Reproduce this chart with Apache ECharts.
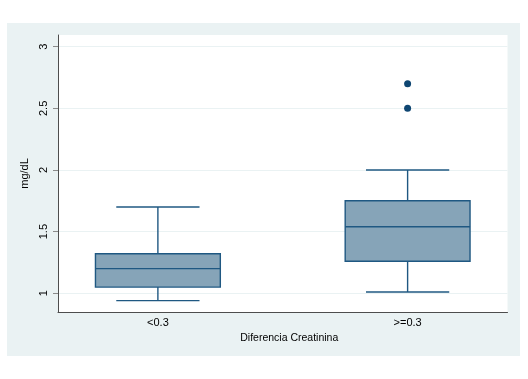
<!DOCTYPE html>
<html>
<head>
<meta charset="utf-8">
<script src="https://cdn.jsdelivr.net/npm/echarts@6/dist/echarts.min.js"></script>
<style>
  html, body { margin: 0; padding: 0; background: #ffffff; }
  #wrap { position: relative; width: 528px; height: 379px; }
  #bg { position: absolute; left: 7px; top: 23px; width: 513px; height: 333px; background: #eaf2f3; }
  #chart { position: absolute; left: 0; top: 0; width: 528px; height: 379px; }
</style>
</head>
<body>
<div id="wrap"><div id="bg"></div><div id="chart"></div></div>
<script>
// Data
const categories = ['<0.3', '>=0.3'];
const positions = [1, 2];
const mins    = [0.94, 1.01];
const q1s     = [1.05, 1.26];
const medians = [1.20, 1.54];
const q3s     = [1.32, 1.75];
const maxs    = [1.70, 2.00];
const outlierGroup = [2, 2];
const outlierValues = [2.50, 2.70];
const yTicks = [1, 1.5, 2, 2.5, 3];

const boxData = positions.map((p, i) => [p, mins[i], q1s[i], medians[i], q3s[i], maxs[i]]);
const outlierData = outlierGroup.map((g, i) => [g, outlierValues[i]]);

const lineColor = '#1f5882';
const fillColor = '#86a4b8';
const boxHalf = 0.25;
const capHalf = 1 / 6;

const chart = echarts.init(document.getElementById('chart'), null, { renderer: 'canvas' });
chart.setOption({
  animation: false,
  backgroundColor: 'transparent',
  textStyle: { fontFamily: 'Liberation Sans, Arial, sans-serif' },
  grid: {
    left: 58, top: 35, right: 20.5, bottom: 67,
    show: true, backgroundColor: '#ffffff', borderWidth: 0
  },
  xAxis: {
    type: 'value',
    min: 0.6, max: 2.4,
    name: 'Diferencia Creatinina',
    nameLocation: 'middle',
    nameGap: 19,
    nameTextStyle: { fontSize: 10.5, color: '#000', padding: [0, 0, 0, 13] },
    axisLine: { show: true, onZero: false, lineStyle: { color: '#4d4d4d', width: 1 } },
    axisTick: { show: false },
    splitLine: { show: false },
    axisLabel: {
      customValues: positions,
      formatter: v => categories[positions.indexOf(v)] || '',
      fontSize: 11, color: '#000', margin: 5
    }
  },
  yAxis: {
    type: 'value',
    min: 0.848, max: 3.095,
    name: 'mg/dL',
    nameLocation: 'middle',
    nameGap: 28,
    nameTextStyle: { fontSize: 11, color: '#000' },
    axisLine: { show: true, lineStyle: { color: '#4d4d4d', width: 1 } },
    axisTick: { show: true, customValues: yTicks, length: 5, lineStyle: { color: '#8a8a8a' } },
    axisLabel: { customValues: yTicks, rotate: 90, fontSize: 11, color: '#000', margin: 9 },
    splitLine: { show: true, lineStyle: { color: '#eaf2f3', width: 1 } }
  },
  series: [
    {
      type: 'custom',
      data: boxData,
      z: 3,
      renderItem: function (params, api) {
        const x = api.value(0);
        const vMin = api.value(1), vQ1 = api.value(2), vMed = api.value(3), vQ3 = api.value(4), vMax = api.value(5);
        const tl = api.coord([x - boxHalf, vQ3]);
        const br = api.coord([x + boxHalf, vQ1]);
        const medL = api.coord([x - boxHalf, vMed]);
        const medR = api.coord([x + boxHalf, vMed]);
        const top = api.coord([x, vMax]);
        const bot = api.coord([x, vMin]);
        const capTL = api.coord([x - capHalf, vMax]);
        const capTR = api.coord([x + capHalf, vMax]);
        const capBL = api.coord([x - capHalf, vMin]);
        const capBR = api.coord([x + capHalf, vMin]);
        const ls = { stroke: lineColor, lineWidth: 1.4 };
        return {
          type: 'group',
          children: [
            { type: 'line', shape: { x1: top[0], y1: top[1], x2: top[0], y2: tl[1] }, style: ls },
            { type: 'line', shape: { x1: bot[0], y1: br[1], x2: bot[0], y2: bot[1] }, style: ls },
            { type: 'line', shape: { x1: capTL[0], y1: capTL[1], x2: capTR[0], y2: capTR[1] }, style: ls },
            { type: 'line', shape: { x1: capBL[0], y1: capBL[1], x2: capBR[0], y2: capBR[1] }, style: ls },
            { type: 'rect', shape: { x: tl[0], y: tl[1], width: br[0] - tl[0], height: br[1] - tl[1] },
              style: { fill: fillColor, stroke: lineColor, lineWidth: 1.4 } },
            { type: 'line', shape: { x1: medL[0], y1: medL[1], x2: medR[0], y2: medR[1] }, style: ls }
          ]
        };
      }
    },
    {
      type: 'scatter',
      data: outlierData,
      symbol: 'circle',
      symbolSize: 7,
      itemStyle: { color: '#0f4672', opacity: 1 },
      z: 4
    }
  ]
});
</script>
</body>
</html>
